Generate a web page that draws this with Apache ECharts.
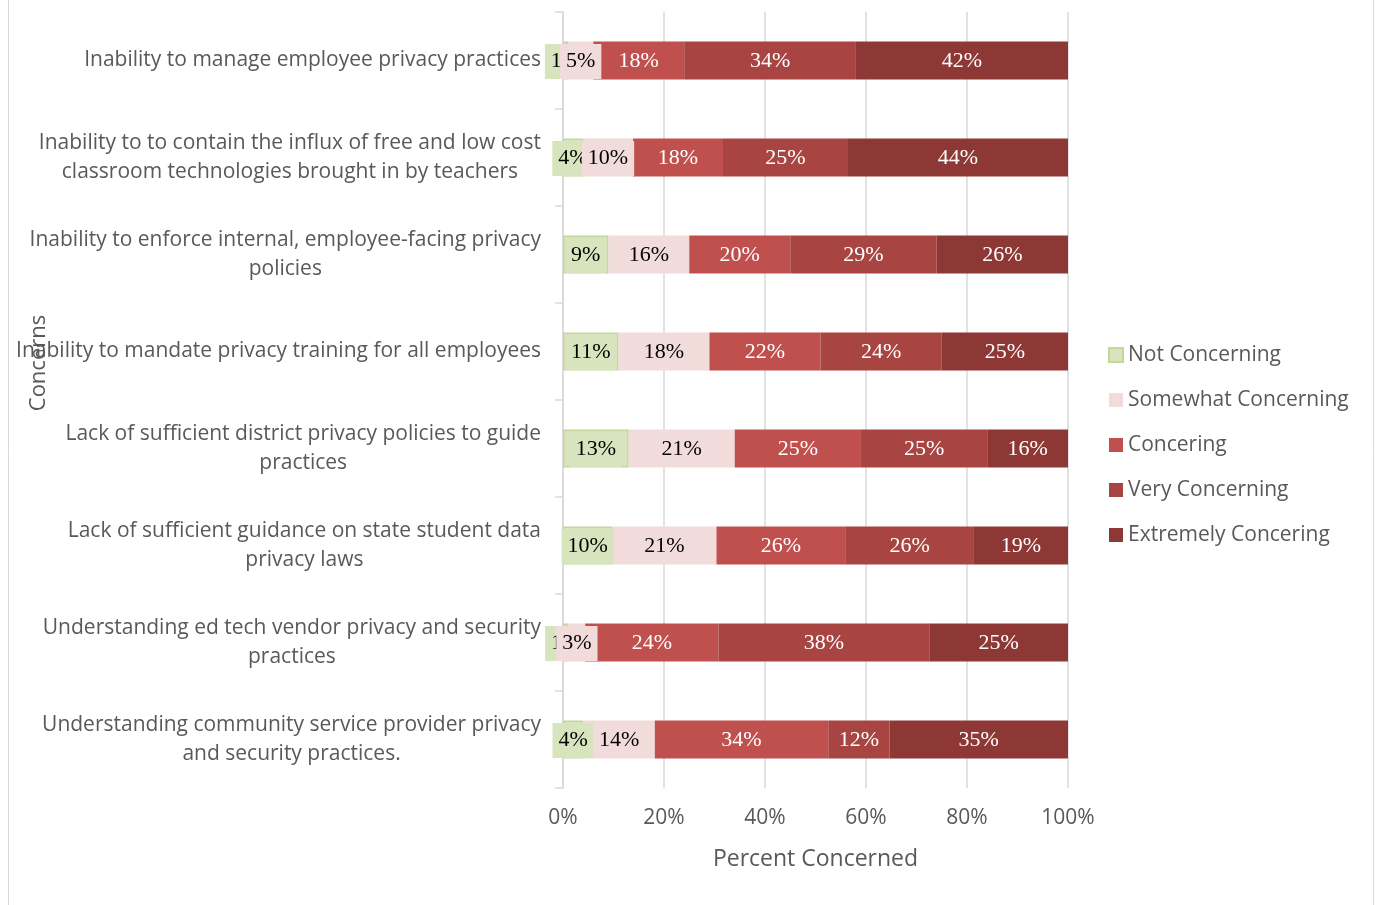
<!DOCTYPE html>
<html lang="en">
<head>
    <meta charset="UTF-8">
    <title>Privacy concerns</title>
    <script src="https://cdn.jsdelivr.net/npm/echarts@6/dist/echarts.min.js"></script>
    <style>
        html, body { margin: 0; padding: 0; background: #fff; }
        #chart { width: 1379px; height: 905px; }
    </style>
</head>
<body>
    <div id="chart"></div>
    <script type="text/javascript">
        // categories, top to bottom
        var concerns = [
            'Inability to manage employee privacy practices',
            'Inability to to contain the influx of free and low cost\nclassroom technologies brought in by teachers',
            'Inability to enforce internal, employee-facing privacy\npolicies',
            'Inability to mandate privacy training for all employees',
            'Lack of sufficient district privacy policies to guide\npractices',
            'Lack of sufficient guidance on state student data\nprivacy laws',
            'Understanding ed tech vendor privacy and security\npractices',
            'Understanding community service provider privacy\nand security practices.'
        ];
        var levels = ['Not Concerning', 'Somewhat Concerning', 'Concering', 'Very Concerning', 'Extremely Concering'];

        // raw answers (%) per level, same order as concerns
        var notConcerning       = [1, 4, 9, 11, 13, 10, 1, 4];
        var somewhatConcerning  = [5, 10, 16, 18, 21, 21, 3, 14];
        var concerning          = [18, 18, 20, 22, 25, 26, 24, 34];
        var veryConcerning      = [34, 25, 29, 24, 25, 26, 38, 12];
        var extremelyConcerning = [42, 44, 26, 25, 16, 19, 25, 35];

        var xTicks = [0, 20, 40, 60, 80, 100];

        var colors = ['#d7e4bd', '#f2dcdb', '#c0504d', '#a84543', '#8e3836'];
        var textColors = ['#000', '#000', '#fff', '#fff', '#fff'];
        var rows = [notConcerning, somewhatConcerning, concerning, veryConcerning, extremelyConcerning];

        // 100% stacked: each row is scaled to its own total, labels keep the raw number
        var totals = concerns.map(function (c, i) {
            return rows.reduce(function (s, r) { return s + r[i]; }, 0);
        });

        var series = rows.map(function (raw, k) {
            return {
                name: levels[k],
                type: 'bar',
                stack: 'all',
                barWidth: 38,
                itemStyle: {
                    color: colors[k],
                    borderColor: k === 0 ? '#c3d69b' : null,
                    borderWidth: k === 0 ? 1.5 : 0
                },
                label: {
                    show: true,
                    position: 'inside',
                    offset: [0, 1],
                    fontFamily: 'Liberation Serif',
                    fontSize: 22,
                    lineHeight: 24,
                    color: textColors[k],
                    backgroundColor: colors[k],
                    padding: [9, 6, 2, 6],
                    formatter: function (p) { return raw[p.dataIndex] + '%'; }
                },
                data: raw.map(function (v, i) { return v / totals[i] * 100; })
            };
        });

        var myChart = echarts.init(document.getElementById('chart'));
        myChart.setOption({
            animation: false,
            backgroundColor: '#fff',
            color: colors,
            textStyle: { fontFamily: 'Open Sans' },
            graphic: [{
                type: 'rect',
                shape: { x: 8.5, y: -5, width: 1365, height: 920 },
                style: { fill: 'none', stroke: '#d9d9d9', lineWidth: 1 },
                silent: true
            }],
            grid: { left: 563, right: 311, top: 12, bottom: 117, containLabel: false, outerBoundsMode: 'none' },
            legend: {
                orient: 'vertical',
                left: 1108,
                top: 343,
                padding: 0,
                itemWidth: 14,
                itemHeight: 14,
                itemGap: 21,
                icon: 'rect',
                textStyle: { fontSize: 21, lineHeight: 24, color: '#595959', fontFamily: 'Open Sans' },
                data: levels
            },
            xAxis: {
                type: 'value',
                min: 0,
                max: 100,
                interval: 20,
                name: 'Percent Concerned',
                nameLocation: 'middle',
                nameGap: 60,
                nameMoveOverlap: false,
                nameTextStyle: { fontSize: 23, color: '#595959', verticalAlign: 'top' },
                axisLine: { show: false },
                axisTick: { show: false },
                axisLabel: {
                    margin: 20,
                    fontSize: 21,
                    color: '#595959',
                    customValues: xTicks,
                    formatter: '{value}%'
                },
                splitLine: { lineStyle: { color: '#d9d9d9', width: 1.5 } }
            },
            yAxis: {
                type: 'category',
                inverse: true,
                data: concerns,
                name: 'Concerns',
                nameLocation: 'middle',
                nameGap: 513,
                nameMoveOverlap: false,
                nameTextStyle: { fontSize: 22, color: '#595959', padding: [0, 0, 0, 74] },
                axisLine: { show: true, lineStyle: { color: '#d9d9d9', width: 1.5 } },
                axisTick: { show: true, length: 8, lineStyle: { color: '#d9d9d9', width: 1.5 } },
                axisLabel: {
                    margin: 22,
                    formatter: function (v) {
                        return v.split('\n').map(function (l) { return '{c|' + l + '}'; }).join('\n');
                    },
                    rich: {
                        c: { align: 'center', fontSize: 21, lineHeight: 29, color: '#595959', fontFamily: 'Open Sans' }
                    }
                }
            },
            series: series
        });
    </script>
</body>
</html>
